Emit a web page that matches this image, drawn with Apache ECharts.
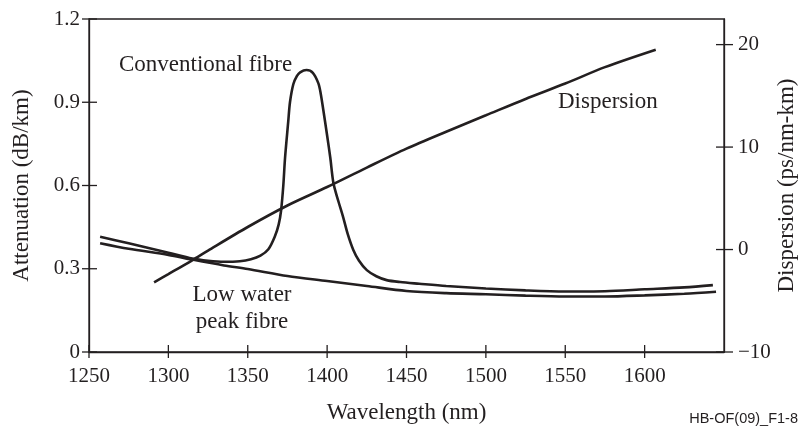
<!DOCTYPE html>
<html>
<head>
<meta charset="utf-8">
<script src="https://cdn.jsdelivr.net/npm/echarts@6/dist/echarts.min.js"></script>
<style>
html,body{margin:0;padding:0;background:#fff;}
#chart{width:799px;height:427px;}
</style>
</head>
<body>
<div id="chart"></div>
<script>
// ---- data ----
const wavelengthTicks = [1250, 1300, 1350, 1400, 1450, 1500, 1550, 1600];
const attenuationTicks = [0, 0.3, 0.6, 0.9, 1.2];
const dispersionTicks = [-10, 0, 10, 20];

const convWavelength = [1257, 1275, 1300, 1315, 1325, 1335, 1345, 1352, 1358, 1363, 1367, 1369.5, 1371, 1372.4, 1373.5, 1375.5, 1376.6, 1378.7, 1381, 1383, 1387, 1391, 1394.5, 1396, 1397.6, 1400, 1402, 1404, 1407, 1410, 1413, 1416.5, 1420, 1425, 1431, 1437.5, 1446, 1458, 1475, 1500, 1525, 1550, 1575, 1600, 1625, 1643];
const convAttenuation = [0.415, 0.392, 0.358, 0.337, 0.329, 0.325, 0.327, 0.334, 0.347, 0.370, 0.415, 0.460, 0.510, 0.600, 0.700, 0.830, 0.900, 0.965, 0.995, 1.008, 1.016, 1.006, 0.968, 0.930, 0.872, 0.780, 0.700, 0.608, 0.545, 0.488, 0.425, 0.368, 0.330, 0.295, 0.273, 0.259, 0.252, 0.246, 0.238, 0.229, 0.222, 0.218, 0.219, 0.226, 0.233, 0.241];

const lowWavelength = [1257, 1275, 1300, 1315, 1335, 1350, 1375, 1400, 1425, 1450, 1475, 1500, 1525, 1550, 1575, 1600, 1625, 1645];
const lowAttenuation = [0.392, 0.372, 0.350, 0.333, 0.312, 0.299, 0.274, 0.256, 0.238, 0.220, 0.212, 0.208, 0.203, 0.200, 0.200, 0.204, 0.210, 0.217];

const dispWavelength = [1291, 1300, 1315, 1325, 1350, 1375, 1400, 1425, 1450, 1475, 1500, 1525, 1550, 1575, 1607];
const dispValue = [-3.2, -2.4, -1.05, -0.1, 2.2, 4.3, 6.1, 8.0, 9.85, 11.5, 13.1, 14.7, 16.2, 17.8, 19.5];

const toPairs = (xs, ys) => xs.map((x, i) => [x, ys[i]]);

const SERIF = 'Liberation Serif';
const INK = '#231f20';
const axisLine = { show: true, onZero: false, lineStyle: { color: INK, width: 1.3 } };

// show only the labelled tick values
const near = (v, list) => list.some(t => Math.abs(t - v) < 1e-6);
const fmtX = v => (near(v, wavelengthTicks) ? String(v) : '');
const fmtAtt = v => (near(v, attenuationTicks) ? String(+v.toFixed(1)) : '');
const fmtDisp = v => (near(v, dispersionTicks) ? (v < 0 ? '\u2212' + Math.abs(v) : String(v)) : '');

const chart = echarts.init(document.getElementById('chart'), null, { renderer: 'canvas' });

chart.setOption({
  backgroundColor: '#ffffff',
  animation: false,
  grid: {
    left: 89, right: 75, top: 19, bottom: 75,
    containLabel: false, outerBoundsMode: 'none',
    show: true, borderColor: INK, borderWidth: 1.3, backgroundColor: 'transparent'
  },
  xAxis: [{
    type: 'value', position: 'bottom', min: 1250, max: 1650, interval: 50,
    name: 'Wavelength (nm)', nameLocation: 'middle', nameGap: 49, nameMoveOverlap: false,
    nameTextStyle: { fontFamily: SERIF, fontSize: 23, color: INK },
    axisLine: axisLine,
    axisTick: { show: false },
    axisLabel: { show: true, margin: 14, fontFamily: SERIF, fontSize: 21, color: INK, formatter: fmtX },
    splitLine: { show: false }
  }],
  yAxis: [
    {
      type: 'value', position: 'left', min: 0, max: 1.2, interval: 0.3,
      name: 'Attenuation (dB/km)', nameLocation: 'middle', nameGap: 56, nameRotate: 90, nameMoveOverlap: false,
      nameTextStyle: { fontFamily: SERIF, fontSize: 23, color: INK },
      axisLine: axisLine,
      axisTick: { show: false },
      axisLabel: { show: true, margin: 9, fontFamily: SERIF, fontSize: 21, color: INK, formatter: fmtAtt },
      splitLine: { show: false }
    },
    {
      type: 'value', position: 'right', min: -10, max: 22.5, interval: 10,
      name: 'Dispersion (ps/nm-km)', nameLocation: 'middle', nameGap: 51, nameRotate: 90, nameMoveOverlap: false,
      nameTextStyle: { fontFamily: SERIF, fontSize: 23, color: INK },
      axisLine: axisLine,
      axisTick: { show: false },
      axisLabel: { show: true, margin: 14, fontFamily: SERIF, fontSize: 21, color: INK, formatter: fmtDisp },
      splitLine: { show: false }
    }
  ],
  series: [
    {
      name: 'Conventional fibre', type: 'line', xAxisIndex: 0, yAxisIndex: 0,
      data: toPairs(convWavelength, convAttenuation),
      showSymbol: false, smooth: 0.3,
      lineStyle: { color: INK, width: 2.6 }
    },
    {
      name: 'Low water peak fibre', type: 'line', xAxisIndex: 0, yAxisIndex: 0,
      data: toPairs(lowWavelength, lowAttenuation),
      showSymbol: false, smooth: 0.3,
      lineStyle: { color: INK, width: 2.6 }
    },
    {
      name: 'Dispersion', type: 'line', xAxisIndex: 0, yAxisIndex: 1,
      data: toPairs(dispWavelength, dispValue),
      showSymbol: false, smooth: 0.3,
      lineStyle: { color: INK, width: 2.6 }
    }
  ]
});

// crossing tick marks, placed through the chart's own axis scales
const tickLines = [];
const seg = (x1, y1, x2, y2) => tickLines.push({
  type: 'line', silent: true, z: 10,
  shape: { x1: x1, y1: y1, x2: x2, y2: y2 },
  style: { stroke: INK, lineWidth: 1.3 }
});
const leftFinder = { xAxisIndex: 0, yAxisIndex: 0 };
const rightFinder = { xAxisIndex: 0, yAxisIndex: 1 };
wavelengthTicks.forEach(v => {
  const p = chart.convertToPixel(leftFinder, [v, 0]);
  seg(p[0], p[1] - 7, p[0], p[1] + 6);
});
attenuationTicks.forEach(v => {
  const p = chart.convertToPixel(leftFinder, [1250, v]);
  seg(p[0] - 7, p[1], p[0] + 8, p[1]);
});
dispersionTicks.forEach(v => {
  const p = chart.convertToPixel(rightFinder, [1650, v]);
  seg(p[0] - 8, p[1], p[0] + 9, p[1]);
});

chart.setOption({
  graphic: tickLines.concat([
    { type: 'text', left: 119, top: 53, style: { text: 'Conventional fibre', font: '23px "Liberation Serif"', fill: INK } },
    { type: 'text', left: 558, top: 90, style: { text: 'Dispersion', font: '23px "Liberation Serif"', fill: INK } },
    { type: 'text', x: 242, y: 281, style: { text: 'Low water\npeak fibre', font: '23px "Liberation Serif"', fill: INK, align: 'center', verticalAlign: 'top', lineHeight: 27 } },
    { type: 'text', right: 1, top: 411, style: { text: 'HB-OF(09)_F1-8', font: '14.5px "Liberation Sans"', fill: INK } }
  ])
});
</script>
</body>
</html>
